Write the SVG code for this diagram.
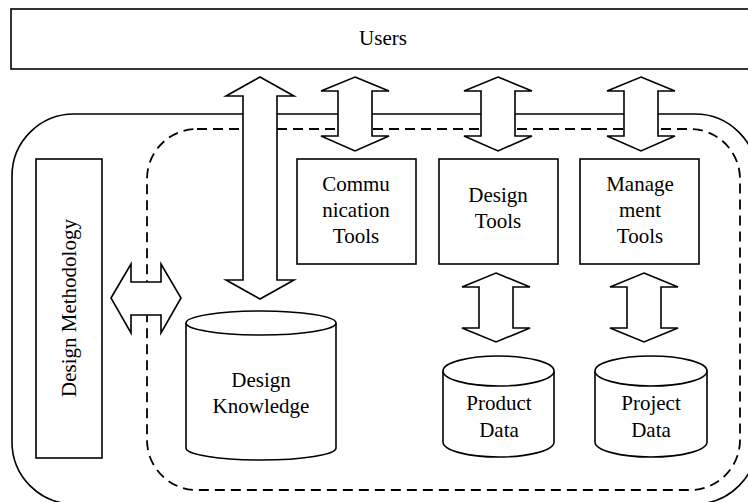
<svg xmlns="http://www.w3.org/2000/svg" width="748" height="502" viewBox="0 0 748 502">
<style>
.s{fill:#fff;stroke:#000;stroke-width:1.6}
.n{fill:none;stroke:#000;stroke-width:1.6}
.d{fill:none;stroke:#000;stroke-width:1.8;stroke-dasharray:10 6}
.a{fill:#fff;stroke:#000;stroke-width:1.6;stroke-linejoin:miter}
text{font-family:"Liberation Serif","Times New Roman",serif;font-size:21px;fill:#000;text-anchor:middle}
</style>
<rect width="748" height="502" fill="#fff"/>
<g id="users"><rect class="s" x="11" y="9" width="760" height="60"/><text x="383" y="45">Users</text></g>
<g id="environment"><rect class="n" x="12" y="114" width="745" height="390" rx="62" ry="62"/></g>
<g id="system"><rect class="d" x="147" y="129" width="593" height="361" rx="50" ry="50"/></g>
<g id="connectors">
<path class="a" d="M260,77 L294,96 L277,96 L277,280 L294,280 L260,299 L226,280 L243,280 L243,96 L226,96 Z"/>
<path class="a" d="M355,77 L389,91 L372,91 L372,136 L389,136 L355,151 L321,136 L338,136 L338,91 L321,91 Z"/>
<path class="a" d="M498,77 L532,91 L515,91 L515,136 L532,136 L498,151 L464,136 L481,136 L481,91 L464,91 Z"/>
<path class="a" d="M641,77 L675,91 L658,91 L658,136 L675,136 L641,151 L607,136 L624,136 L624,91 L607,91 Z"/>
<path class="a" d="M496,273 L530,287 L513,287 L513,328 L530,328 L496,342 L462,328 L479,328 L479,287 L462,287 Z"/>
<path class="a" d="M644,273 L678,287 L661,287 L661,328 L678,328 L644,342 L610,328 L627,328 L627,287 L610,287 Z"/>
<path class="a" d="M111,298 L131,264 L131,282 L161,282 L161,264 L181,298 L161,333 L161,315 L131,315 L131,333 Z"/>
</g>
<g id="methodology"><rect class="s" x="36" y="159" width="66" height="299"/><text transform="translate(76,308) rotate(-90)">Design Methodology</text></g>
<g id="communication-tools"><rect class="s" x="297" y="159" width="119" height="105"/><text x="356" y="191">Commu</text><text x="356" y="217">nication</text><text x="356" y="243">Tools</text></g>
<g id="design-tools"><rect class="s" x="439" y="159" width="119" height="105"/><text x="498" y="202">Design</text><text x="498" y="228">Tools</text></g>
<g id="management-tools"><rect class="s" x="580" y="159" width="119" height="105"/><text x="640" y="191">Manage</text><text x="640" y="217">ment</text><text x="640" y="243">Tools</text></g>
<g id="design-knowledge"><path class="s" d="M186,323 L186,448 A75,12 0 0 0 336,448 L336,323"/><ellipse class="s" cx="261" cy="323" rx="75" ry="12"/><text x="261" y="387">Design</text><text x="261" y="413">Knowledge</text></g>
<g id="product-data"><path class="s" d="M443,371 L443,442 A55.5,15 0 0 0 554,442 L554,371"/><ellipse class="s" cx="498.5" cy="371" rx="55.5" ry="15"/><text x="499" y="410">Product</text><text x="499" y="437">Data</text></g>
<g id="project-data"><path class="s" d="M595,371 L595,442 A56,15 0 0 0 707,442 L707,371"/><ellipse class="s" cx="651" cy="371" rx="56" ry="15"/><text x="651" y="410">Project</text><text x="651" y="437">Data</text></g>
</svg>
